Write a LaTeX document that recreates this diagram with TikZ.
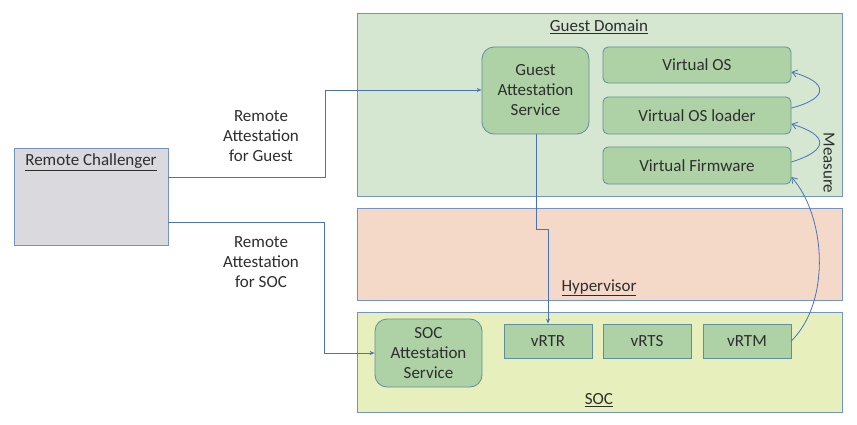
\documentclass[tikz,border=0pt]{standalone}
\usepackage{fontspec}
\setmainfont{Carlito}
\usetikzlibrary{arrows.meta}
\definecolor{edge}{HTML}{7393C4}
\definecolor{arr}{HTML}{4A72B8}
\definecolor{gdfill}{HTML}{D5E7D0}
\definecolor{inner}{HTML}{AED2A6}
\definecolor{inneredge}{HTML}{5E8F9A}
\definecolor{hvfill}{HTML}{F5D9C8}
\definecolor{socfill}{HTML}{E7F0BD}
\definecolor{rcfill}{HTML}{D9D9DE}
\definecolor{txt}{HTML}{2E2E2E}
\begin{document}
\begin{tikzpicture}[x=1pt,y=-1pt,
  font=\fontsize{17}{20}\selectfont, text=txt,
  zone/.style={draw=edge, line width=0.8pt, inner sep=0pt},
  ibox/.style={draw=inneredge, fill=inner, line width=0.8pt, inner sep=0pt, align=center, rounded corners=5pt},
  conn/.style={draw=arr, line width=0.8pt, -{Stealth[length=5pt,width=4pt]}},
  meas/.style={draw=arr, line width=0.8pt, -{Straight Barb[length=5pt,width=7pt]}},
  lbl/.style={align=center, inner sep=0pt}]
\useasboundingbox (0,0) rectangle (857,425);
% zones
\node[zone, fill=gdfill, minimum width=485pt, minimum height=183pt] (gd) at (599.5,104.5) {};
\node[zone, fill=hvfill, minimum width=485pt, minimum height=92pt] (hv) at (599.5,254) {};
\node[zone, fill=socfill, minimum width=485pt, minimum height=100pt] (soc) at (599.5,362) {};
\node[zone, fill=rcfill, minimum width=154pt, minimum height=97pt] (rc) at (91,196.5) {};
% zone titles
\node[lbl] (gdt) at (599,27) {\underline{Guest Domain}};
\node[lbl] (hvt) at (599,288) {\underline{Hypervisor}};
\node[lbl] (soct) at (599,400) {\underline{SOC}};
\node[lbl] (rct) at (91,162) {\underline{Remote Challenger}};
\node[lbl, rotate=-90] (meas) at (829,163) {Measure};
% inner boxes
\node[ibox, rounded corners=12pt, minimum width=107pt, minimum height=87pt] (gas) at (535.5,90.5) {Guest\\Attestation\\Service};
\node[ibox, minimum width=188pt, minimum height=36pt] (vos) at (697,65) {Virtual OS};
\node[ibox, minimum width=188pt, minimum height=37pt] (vosl) at (697,115.5) {Virtual OS loader};
\node[ibox, minimum width=188pt, minimum height=37pt] (vfw) at (697,165.5) {Virtual Firmware};
\node[ibox, rounded corners=12pt, minimum width=107pt, minimum height=68pt] (sas) at (428.5,353) {SOC\\Attestation\\Service};
\node[ibox, rounded corners=0pt, minimum width=88pt, minimum height=34pt] (vrtr) at (548,341) {vRTR};
\node[ibox, rounded corners=0pt, minimum width=88pt, minimum height=34pt] (vrts) at (647,341) {vRTS};
\node[ibox, rounded corners=0pt, minimum width=88pt, minimum height=34pt] (vrtm) at (747,341) {vRTM};
% edge labels
\node[lbl] (lg) at (261,136) {Remote\\Attestation\\for Guest};
\node[lbl] (ls) at (261,262) {Remote\\Attestation\\for SOC};
% connectors
\draw[conn] (rc.east |- 0,177) -- (325,177) -- (325,90) -- (gas.west |- 0,90);
\draw[conn] (rc.east |- 0,222) -- (324,222) -- (324,353) -- (sas.west);
\draw[conn] (gas.south -| 536,0) -- (536,229) -- (548,229) -- (vrtr.north);
\draw[meas] (vrtm.east) .. controls (832,300) and (825,215) .. (vfw.east |- 0,177);
\draw[meas] (vfw.east |- 0,162) .. controls (830,150) and (828,135) .. (vosl.east |- 0,124);
\draw[meas] (vosl.east |- 0,108) .. controls (830,98) and (828,82) .. (vos.east |- 0,72);
\end{tikzpicture}
\end{document}
